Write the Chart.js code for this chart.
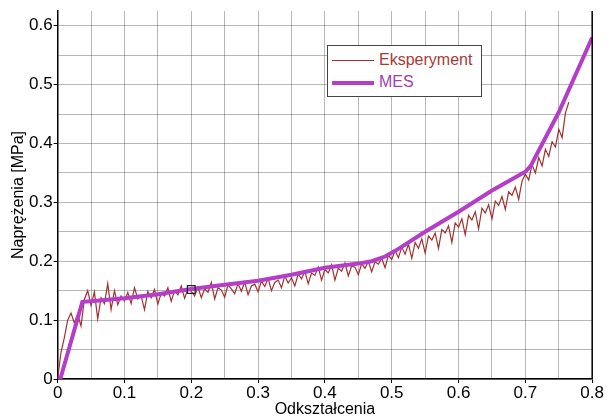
<!DOCTYPE html>
<html>
<head>
<meta charset="utf-8">
<script src="https://cdn.jsdelivr.net/npm/chart.js@4/dist/chart.umd.min.js"></script>
<style>
  html, body { margin: 0; padding: 0; background: #fff; }
  #wrap { position: relative; width: 606px; height: 416px; }
  #legend {
    position: absolute; left: 327px; top: 45px; width: 153px; height: 50px;
    border: 1px solid #444; background: #fff;
    font-family: "Liberation Sans", Arial, sans-serif; font-size: 16px;
  }
  .row { position: absolute; left: 4px; height: 20px; line-height: 20px; white-space: nowrap; }
  .sw { display: inline-block; width: 42px; vertical-align: middle; margin-right: 5px; }
</style>
</head>
<body>
<div id="wrap">
  <canvas id="chart" width="606" height="416"></canvas>
  <div id="legend"></div>
</div>
<script>
// MES (model) curve
const mesStrain = [0, 0.004, 0.037, 0.05, 0.1, 0.15, 0.2, 0.25, 0.3, 0.35, 0.4, 0.45, 0.47, 0.49, 0.51, 0.55, 0.6, 0.65, 0.7, 0.708, 0.75, 0.8];
const mesStress = [0, 0, 0.131, 0.132, 0.137, 0.144, 0.153, 0.16, 0.167, 0.177, 0.189, 0.196, 0.2, 0.208, 0.221, 0.25, 0.284, 0.32, 0.352, 0.362, 0.453, 0.58];

const expStrain = [
  0, 0.005, 0.01, 0.015, 0.02, 0.025, 0.03, 0.035, 0.04, 0.045,
  0.05, 0.055, 0.06, 0.065, 0.07, 0.075, 0.08, 0.085, 0.09, 0.095,
  0.1, 0.105, 0.11, 0.115, 0.12, 0.125, 0.13, 0.135, 0.14, 0.145,
  0.15, 0.155, 0.16, 0.165, 0.17, 0.175, 0.18, 0.185, 0.19, 0.195,
  0.2, 0.205, 0.21, 0.215, 0.22, 0.225, 0.23, 0.235, 0.24, 0.245,
  0.25, 0.255, 0.26, 0.265, 0.27, 0.275, 0.28, 0.285, 0.29, 0.295,
  0.3, 0.305, 0.31, 0.315, 0.32, 0.325, 0.33, 0.335, 0.34, 0.345,
  0.35, 0.355, 0.36, 0.365, 0.37, 0.375, 0.38, 0.385, 0.39, 0.395,
  0.4, 0.405, 0.41, 0.415, 0.42, 0.425, 0.43, 0.435, 0.44, 0.445,
  0.45, 0.455, 0.46, 0.465, 0.47, 0.475, 0.48, 0.485, 0.49, 0.495,
  0.5, 0.505, 0.51, 0.515, 0.52, 0.525, 0.53, 0.535, 0.54, 0.545,
  0.55, 0.555, 0.56, 0.565, 0.57, 0.575, 0.58, 0.585, 0.59, 0.595,
  0.6, 0.605, 0.61, 0.615, 0.62, 0.625, 0.63, 0.635, 0.64, 0.645,
  0.65, 0.655, 0.66, 0.665, 0.67, 0.675, 0.68, 0.685, 0.69, 0.695,
  0.7, 0.705, 0.71, 0.715, 0.72, 0.725, 0.73, 0.735, 0.74, 0.745,
  0.75, 0.755, 0.76, 0.765
];
const expStress = [
  0, 0.045, 0.07, 0.1, 0.112, 0.095, 0.11, 0.09, 0.135, 0.15,
  0.125, 0.148, 0.102, 0.138, 0.128, 0.162, 0.118, 0.15, 0.126, 0.141,
  0.133, 0.147, 0.128, 0.155, 0.136, 0.141, 0.118, 0.149, 0.138, 0.152,
  0.127, 0.146, 0.141, 0.155, 0.132, 0.15, 0.143, 0.158, 0.137, 0.153,
  0.149, 0.141, 0.156, 0.138, 0.153, 0.147, 0.164, 0.136, 0.155, 0.151,
  0.139, 0.16, 0.153, 0.145, 0.162, 0.149, 0.165, 0.143, 0.158, 0.161,
  0.148, 0.166, 0.157, 0.171, 0.15, 0.164, 0.168, 0.155, 0.175, 0.163,
  0.172, 0.158, 0.178, 0.17, 0.183, 0.162, 0.18, 0.176, 0.19, 0.168,
  0.186, 0.18, 0.194, 0.168, 0.188, 0.183, 0.197, 0.175, 0.192, 0.19,
  0.177, 0.196, 0.188, 0.2, 0.182, 0.199, 0.195, 0.205, 0.189, 0.21,
  0.203, 0.218, 0.206, 0.224, 0.212, 0.229, 0.205, 0.232, 0.222, 0.238,
  0.214, 0.243, 0.236, 0.248, 0.222, 0.254, 0.248, 0.26, 0.232, 0.265,
  0.258, 0.272, 0.245, 0.278, 0.27, 0.284, 0.255, 0.29, 0.282, 0.296,
  0.272, 0.302, 0.295, 0.31, 0.288, 0.318, 0.312, 0.326, 0.305, 0.336,
  0.348, 0.338, 0.364, 0.35, 0.376, 0.362, 0.39, 0.378, 0.403, 0.394,
  0.424, 0.41, 0.452, 0.47
];

// punkt zaznaczony kwadratem
const markStrain = [0.2];
const markStress = [0.152];

const xTicks = [0, 0.1, 0.2, 0.3, 0.4, 0.5, 0.6, 0.7, 0.8];
const yTicks = [0, 0.1, 0.2, 0.3, 0.4, 0.5, 0.6];

const EXP_COLOR = '#a3302c';
const MES_COLOR = '#b43ec8';

const toPts = (xs, ys) => xs.map((x, i) => ({ x: x, y: ys[i] }));
const onGrid = v => Math.abs(v * 20 - Math.round(v * 20)) < 1e-6;
const isMajor = (v, list) => list.some(t => Math.abs(t - v) < 1e-6);
const fmt = v => String(Math.round(v * 10) / 10);

const TICK_FONT = { family: '"Liberation Sans", Arial, sans-serif', size: 17, lineHeight: 1 };
const TITLE_FONT = { family: '"Liberation Sans", Arial, sans-serif', size: 16, lineHeight: 1 };
const GRID = 'rgba(0,0,0,0.28)';

const rightBorder = {
  id: 'rightBorder',
  afterDraw(chart) {
    const { ctx, chartArea: a } = chart;
    ctx.save();
    ctx.strokeStyle = '#000';
    ctx.lineWidth = 1.5;
    ctx.beginPath();
    ctx.moveTo(a.right, a.top);
    ctx.lineTo(a.right, a.bottom);
    ctx.stroke();
    ctx.restore();
  }
};

const chart = new Chart(document.getElementById('chart'), {
  type: 'line',
  data: {
    datasets: [
      {
        label: 'Eksperyment',
        data: toPts(expStrain, expStress),
        borderColor: EXP_COLOR,
        borderWidth: 1.2,
        pointRadius: 0,
        tension: 0,
        order: 2
      },
      {
        label: 'MES',
        data: toPts(mesStrain, mesStress),
        borderColor: MES_COLOR,
        borderWidth: 4,
        pointRadius: 0,
        tension: 0,
        order: 1
      },
      {
        label: 'punkt',
        data: toPts(markStrain, markStress),
        showLine: false,
        pointStyle: 'rect',
        pointRadius: 5.5,
        pointBorderColor: '#222',
        pointBackgroundColor: 'rgba(0,0,0,0)',
        pointBorderWidth: 1.2,
        order: 0
      }
    ]
  },
  options: {
    responsive: false,
    animation: false,
    layout: { padding: { left: 11, top: 11, right: 0, bottom: 0 } },
    plugins: {
      legend: { display: false },
      tooltip: { enabled: false }
    },
    scales: {
      x: {
        type: 'linear',
        min: 0,
        max: 0.8,
        ticks: {
          stepSize: 0.05,
          autoSkip: false,
          maxRotation: 0,
          color: '#000',
          font: TICK_FONT,
          padding: 2,
          callback: v => isMajor(v, xTicks) ? fmt(v) : ''
        },
        grid: {
          color: c => onGrid(c.tick.value) ? GRID : 'rgba(0,0,0,0)',
          tickColor: c => isMajor(c.tick.value, xTicks) ? '#000' : 'rgba(0,0,0,0)',
          tickLength: 4
        },
        border: { color: '#000', width: 1.5 },
        title: {
          display: true,
          text: 'Odkształcenia',
          color: '#000',
          font: TITLE_FONT,
          padding: { top: -2, bottom: -2 }
        }
      },
      y: {
        type: 'linear',
        min: 0,
        max: 0.625,
        ticks: {
          stepSize: 0.025,
          autoSkip: false,
          color: '#000',
          font: TICK_FONT,
          padding: 1,
          callback: v => isMajor(v, yTicks) ? fmt(v) : ''
        },
        grid: {
          color: c => onGrid(c.tick.value) && c.tick.value < 0.61 ? GRID : 'rgba(0,0,0,0)',
          tickColor: c => isMajor(c.tick.value, yTicks) ? '#000' : 'rgba(0,0,0,0)',
          tickLength: 4
        },
        border: { color: '#000', width: 1.5 },
        title: {
          display: true,
          text: 'Naprężenia [MPa]',
          color: '#000',
          font: TITLE_FONT,
          padding: { top: 0, bottom: 1 }
        }
      }
    }
  },
  plugins: [rightBorder]
});

// legenda jak w oryginale
const legend = document.getElementById('legend');
[
  { ds: chart.data.datasets[0], color: EXP_COLOR, text: '#a83a36', top: 4 },
  { ds: chart.data.datasets[1], color: MES_COLOR, text: '#a040b8', top: 26 }
].forEach(item => {
  const row = document.createElement('div');
  row.className = 'row';
  row.style.top = item.top + 'px';
  row.style.color = item.text;
  const sw = document.createElement('span');
  sw.className = 'sw';
  sw.style.borderTop = item.ds.borderWidth + 'px solid ' + item.color;
  row.appendChild(sw);
  row.appendChild(document.createTextNode(item.ds.label));
  legend.appendChild(row);
});
</script>
</body>
</html>
